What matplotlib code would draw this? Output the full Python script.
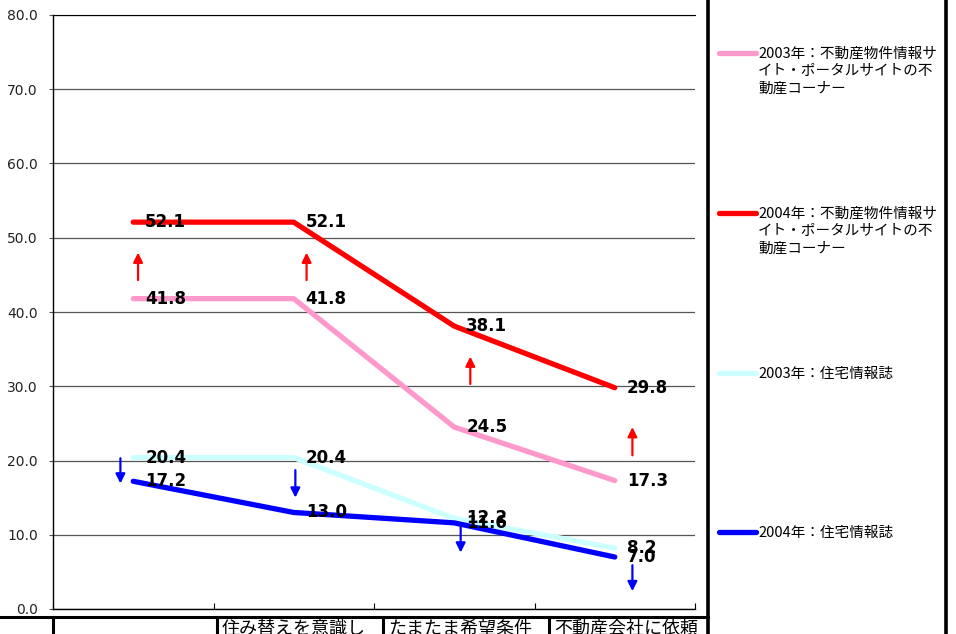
import matplotlib
matplotlib.use('Agg')
import matplotlib.pyplot as plt
from matplotlib.lines import Line2D

plt.rcParams['font.family'] = ['Noto Sans CJK JP', 'DejaVu Sans']

# 利用した情報源の比率（％）
categories = ['', '住み替えを意識し', 'たまたま希望条件', '不動産会社に依頼']
site_2003 = [41.8, 41.8, 24.5, 17.3]
site_2004 = [52.1, 52.1, 38.1, 29.8]
mag_2003 = [20.4, 20.4, 12.2, 8.2]
mag_2004 = [17.2, 13.0, 11.6, 7.0]

series = [
    ('2003年：不動産物件情報サ\nイト・ポータルサイトの不\n動産コーナー', site_2003, '#FF99CC'),
    ('2004年：不動産物件情報サ\nイト・ポータルサイトの不\n動産コーナー', site_2004, '#FF0000'),
    ('2003年：住宅情報誌', mag_2003, '#CCFFFF'),
    ('2004年：住宅情報誌', mag_2004, '#0000FF'),
]

# 増減を示す矢印 (x, 始点, 終点, 色)
arrows = [
    (0.03, 44.3, 48.0, 'red'), (1.08, 44.3, 48.0, 'red'),
    (2.10, 30.3, 34.0, 'red'), (3.11, 20.7, 24.5, 'red'),
    (-0.08, 20.3, 16.9, 'blue'), (1.01, 18.7, 15.0, 'blue'),
    (2.04, 11.0, 7.6, 'blue'), (3.11, 5.9, 2.4, 'blue'),
]

W, H = 956, 634
fig = plt.figure(figsize=(W / 100, H / 100), dpi=100)
ax = fig.add_axes([53 / W, (H - 609) / H, 642 / W, 594 / H])

x = range(len(categories))
for name, vals, col in series:
    ax.plot(x, vals, color=col, lw=3.8, solid_capstyle='round',
            solid_joinstyle='round', zorder=3)
for name, vals, col in series:
    for i, v in enumerate(vals):
        ax.annotate(f'{v:.1f}', (i, v), xytext=(12, 0), textcoords='offset pixels',
                    ha='left', va='center', fontsize=12, fontweight='bold',
                    family='DejaVu Sans', color='black', zorder=5)

for ax_x, y0, y1, col in arrows:
    ax.annotate('', xy=(ax_x, y1), xytext=(ax_x, y0),
                arrowprops=dict(arrowstyle='-|>', color=col, lw=1.6,
                                mutation_scale=14, shrinkA=0, shrinkB=0), zorder=4)

ax.set_xlim(-0.5, 3.5)
ax.set_ylim(0, 80)
ax.set_yticks(range(0, 81, 10))
ax.set_yticklabels([f'{v:.1f}' for v in range(0, 81, 10)], family='DejaVu Sans',
                   fontsize=10, color='#222222')
ax.set_xticks([-0.5, 0.5, 1.5, 2.5, 3.5])
ax.set_xticklabels([])
ax.tick_params(axis='x', direction='in', length=4, color='black')
ax.tick_params(axis='y', direction='out', length=3, pad=8, color='#555555')
ax.grid(axis='y', color='#555555', lw=0.9)
ax.set_axisbelow(True)
ax.spines['right'].set_visible(False)
ax.spines['top'].set_color('black')
for s in ['left', 'bottom']:
    ax.spines[s].set_color('black')
    ax.spines[s].set_linewidth(1.0)

# 凡例
fy = lambda py: (H - py) / H
fx = lambda px: px / W
for (name, vals, col), ly in zip(series, [53, 213, 373, 532]):
    fig.add_artist(Line2D([fx(719), fx(756)], [fy(ly), fy(ly)], color=col, lw=3.8,
                          solid_capstyle='round'))
    fig.text(fx(758), fy(ly - 6), name, ha='left', va='top', fontsize=10.5,
             linespacing=1.3, color='black')
for lx in [708, 946]:
    fig.add_artist(Line2D([fx(lx), fx(lx)], [0, 1], color='black', lw=2.6))

# 下部の表
fig.add_artist(Line2D([0, fx(708)], [fy(617), fy(617)], color='black', lw=2.2))
for cx in [53, 217, 383, 549]:
    fig.add_artist(Line2D([fx(cx), fx(cx)], [0, fy(617)], color='black', lw=2.2))
cells = [53, 217, 383, 549, 708]
for i, lab in enumerate(categories):
    fig.text(fx(cells[i] + 5), fy(620), lab, ha='left', va='top', fontsize=13,
             color='black')

fig.savefig('out.png', dpi=100)
